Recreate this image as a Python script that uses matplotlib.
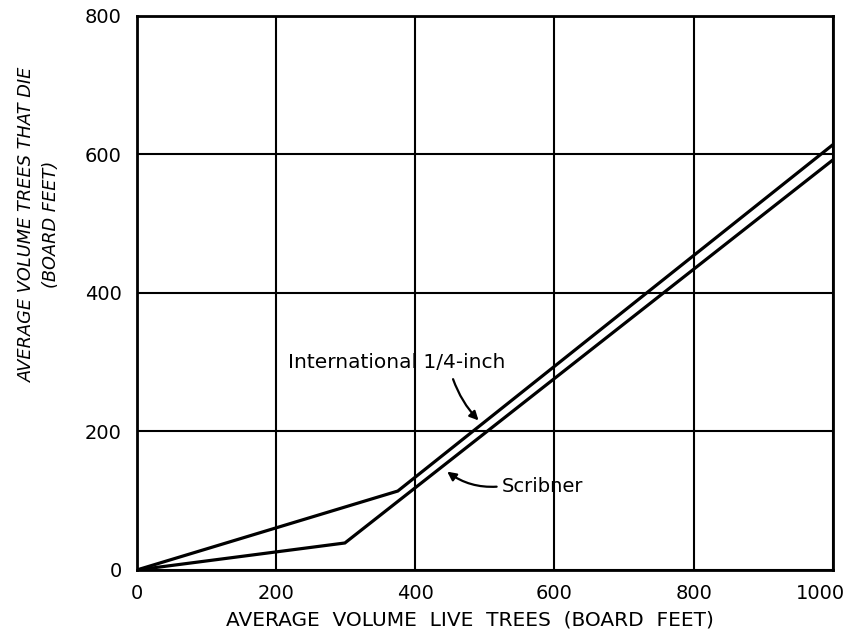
import numpy as np
import matplotlib.pyplot as plt
from matplotlib.transforms import ScaledTranslation

# data (board feet)
intl_x = [0, 375, 1000]
intl_y = [0, 114, 614]
scrib_x = [0, 299, 1000]
scrib_y = [0, 39, 592]

xticks = [0, 200, 400, 600, 800, 1000]
yticks = [0, 200, 400, 600, 800]

fig = plt.figure(figsize=(8.55, 6.39), dpi=100)
ax = fig.add_axes([0.160, 0.108, 0.814, 0.867])

ax.plot(intl_x, intl_y, color='k', lw=2.3, solid_joinstyle='miter')
ax.plot(scrib_x, scrib_y, color='k', lw=2.3, solid_joinstyle='miter')

ax.set_xlim(0, 1000)
ax.set_ylim(0, 800)
ax.set_xticks(xticks)
ax.set_yticks(yticks)
ax.set_xticklabels([str(v) for v in xticks], fontsize=14)
ax.set_yticklabels([str(v) for v in yticks], fontsize=14)
ax.tick_params(axis='x', length=0, pad=10)
ax.tick_params(axis='y', length=0, pad=11)
ax.grid(True, color='k', lw=1.5)
for s in ax.spines.values():
    s.set_linewidth(2)

# pull the last x label in a little so it stays on the page
last = ax.get_xticklabels()[-1]
last.set_transform(last.get_transform() + ScaledTranslation(-9 / 72, 0, fig.dpi_scale_trans))

ax.set_xlabel('AVERAGE  VOLUME  LIVE  TREES  (BOARD  FEET)', fontsize=14.5)
ax.xaxis.set_label_coords(0.478, -0.074)

fig.text(39 / 855, 1 - 224 / 639, 'AVERAGE VOLUME TREES THAT DIE\n(BOARD FEET)',
         rotation=90, ha='center', va='center', style='italic',
         fontsize=12.8, linespacing=1.5)

ax.annotate('International 1/4-inch', xy=(491, 216), xytext=(217, 299),
            fontsize=14.5, va='center',
            arrowprops=dict(arrowstyle='-|>', color='k', lw=1.6,
                            connectionstyle='arc3,rad=0.12',
                            shrinkA=3, shrinkB=0, mutation_scale=13,
                            relpos=(0.75, 0.0)))
ax.annotate('Scribner', xy=(446, 142), xytext=(525, 121),
            fontsize=14, va='center',
            arrowprops=dict(arrowstyle='-|>', color='k', lw=1.6,
                            connectionstyle='arc3,rad=-0.2',
                            shrinkA=2, shrinkB=0, mutation_scale=13,
                            relpos=(0.0, 0.5)))

fig.savefig('out.png', dpi=100)
